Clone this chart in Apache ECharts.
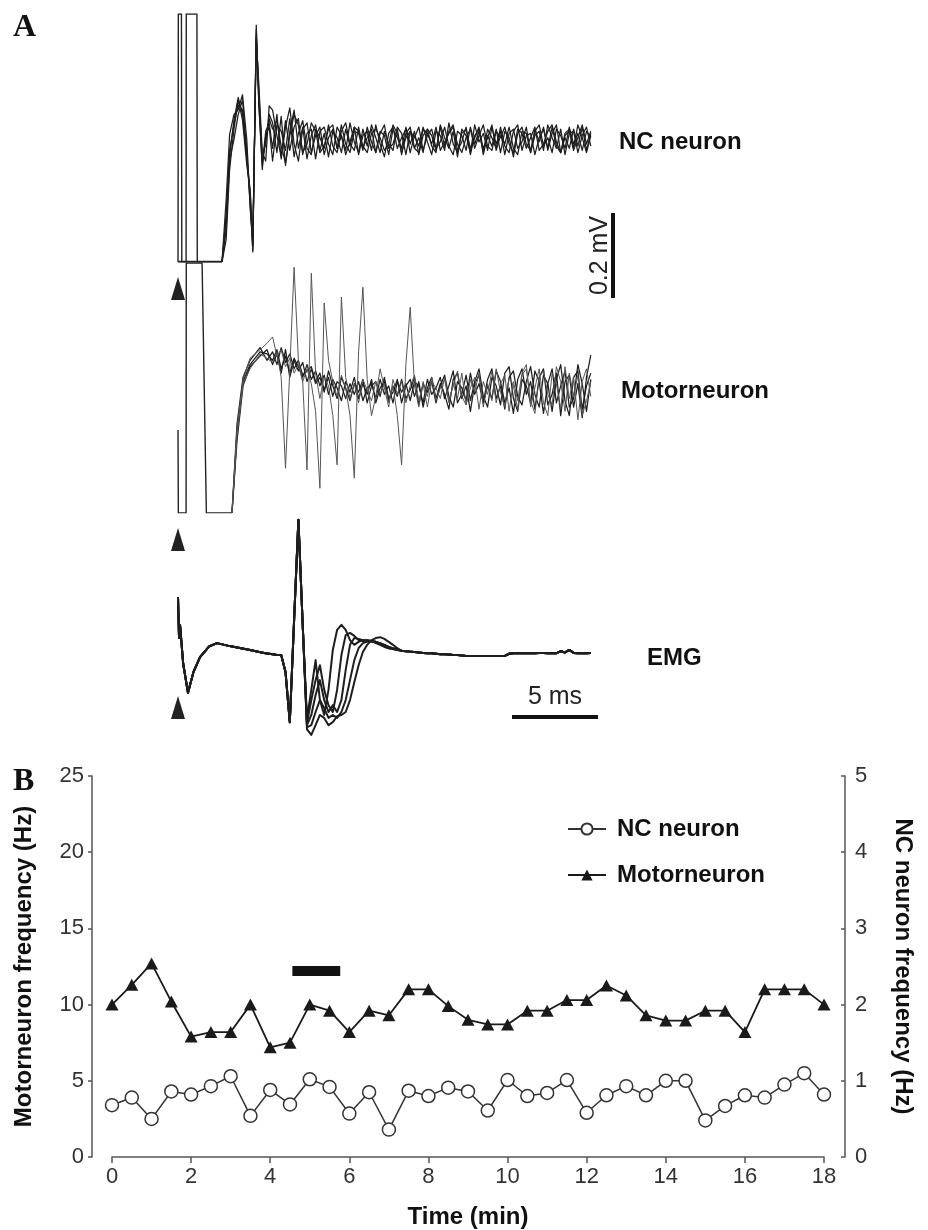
<!DOCTYPE html>
<html>
<head>
<meta charset="utf-8">
<script src="https://cdn.jsdelivr.net/npm/echarts@6/dist/echarts.min.js"></script>
<style>
html, body { margin: 0; padding: 0; background: #fff; }
#chart { width: 928px; height: 1230px; }
</style>
</head>
<body>
<div id="chart"></div>
<script>
// ---------- panel B: firing frequency over time ----------
var minutes = [0, 0.5, 1, 1.5, 2, 2.5, 3, 3.5, 4, 4.5, 5, 5.5, 6, 6.5, 7, 7.5, 8, 8.5, 9, 9.5,
  10, 10.5, 11, 11.5, 12, 12.5, 13, 13.5, 14, 14.5, 15, 15.5, 16, 16.5, 17, 17.5, 18];
var motorFreq = [10.0, 11.3, 12.7, 10.2, 7.9, 8.2, 8.2, 10.0, 7.2, 7.5, 10.0, 9.6, 8.2, 9.6, 9.3, 11.0, 11.0, 9.9, 9.0, 8.7,
  8.7, 9.6, 9.6, 10.3, 10.3, 11.25, 10.6, 9.3, 8.95, 8.95, 9.6, 9.6, 8.2, 11.0, 11.0, 11.0, 10.0];
var ncFreq = [0.68, 0.78, 0.5, 0.86, 0.82, 0.93, 1.06, 0.54, 0.88, 0.69, 1.02, 0.92, 0.57, 0.85, 0.36, 0.87, 0.80, 0.91, 0.86, 0.61,
  1.01, 0.80, 0.84, 1.01, 0.58, 0.81, 0.93, 0.81, 1.0, 1.0, 0.48, 0.67, 0.81, 0.78, 0.95, 1.1, 0.82];
var stimBarMinutes = [4.56, 5.77];
var stimBarLevel = 12.2;

// ---------- panel A: sweeps (time in ms, amplitude in uV) ----------
var sweepTimes = [5.5, 5.75, 6, 6.25, 6.5, 6.75, 7, 7.25, 7.5, 7.75, 8, 8.25, 8.5, 8.75, 9, 9.25, 9.5, 9.75, 10, 10.25,
  10.5, 10.75, 11, 11.25, 11.5, 11.75, 12, 12.25, 12.5, 12.75, 13, 13.25, 13.5, 13.75, 14, 14.25, 14.5, 14.75, 15, 15.25,
  15.5, 15.75, 16, 16.25, 16.5, 16.75, 17, 17.25, 17.5, 17.75, 18, 18.25, 18.5, 18.75, 19, 19.25, 19.5, 19.75, 20, 20.25,
  20.5, 20.75, 21, 21.25, 21.5, 21.75, 22, 22.25, 22.5, 22.75, 23, 23.25, 23.5, 23.75, 24];

// NC neuron
var ncArtifact = [[0, -287], [0.02, 296], [0.2, 296], [0.22, -287], [0.47, -287], [0.48, 296], [1.1, 296], [1.12, -287], [2.56, -287]];
var ncBaseline = [[0, -287], [2.56, -287]];
var ncEarlyTimes = [2.56, 2.8, 3.0, 3.25, 3.5, 3.75, 4.0, 4.2, 4.35, 4.55, 4.7, 4.9, 5.1, 5.3];
var ncEarly = [
  [-287, -176, -24, 35, 82, 71, -24, -141, -264, 259, 100, -40, -10, 60],
  [-287, -235, -71, 24, 94, 47, -59, -118, -247, 247, 80, -60, 20, 40],
  [-287, -141, 12, 59, 71, 106, 0, -165, -235, 235, 130, -30, -50, 80],
  [-287, -212, -47, 0, 59, 94, -35, -153, -259, 270, 90, -70, 10, 30],
  [-287, -190, -40, 45, 100, 60, -45, -130, -250, 240, 110, -50, 0, 50]
];
var ncSweep = [
  [40, -30, 55, -60, 20, 70, -20, 30, -45, 10, 35, -25, 15, -40, 20, 5, -30, 25, -15, 30,
   -35, 10, 20, -25, 35, -10, -40, 15, 30, -20, 5, 25, -30, 10, -15, 30, -5, -35, 20, 10,
   -25, 40, -10, -30, 15, 25, -20, 5, 30, -35, 10, -15, 25, -30, 20, 5, -40, 15, 30, -10,
   -25, 20, 35, -15, 5, -30, 25, 10, -20, 30, -10, 15, -25, 20, 5],
  [-20, 60, -45, 30, 75, -10, -50, 25, 40, -30, 10, 30, -35, 5, 25, -20, 35, -10, -30, 20,
   15, -25, 30, -5, -30, 20, 10, -35, 25, 5, -20, 30, -10, 20, -35, 10, 25, -15, -30, 35,
   5, -20, 20, -40, 25, 10, -30, 35, -5, 15, -25, 30, -10, 20, -35, 15, 25, -20, -5, 30,
   -30, 10, 20, -25, 35, 5, -20, 25, -35, 15, 20, -30, 10, 30, -15],
  [70, 10, -40, 45, -25, 30, 50, -35, 15, 25, -45, 20, 30, -10, -35, 30, 10, -25, 40, -5,
   -30, 25, -15, 35, 5, -30, 20, -10, -25, 30, 15, -35, 20, 5, 30, -25, 10, 25, -20, -5,
   30, -15, -35, 20, 10, -25, 30, -10, 20, -30, 25, 5, -20, 30, -15, -30, 20, 35, -25, 10,
   15, -35, 5, 25, -20, 30, -15, -30, 15, 25, -20, 35, 5, -30, 10],
  [-50, 35, 20, -25, 50, -40, 15, 45, -20, -35, 25, 5, -20, 35, -15, -30, 20, 40, -10, -25,
   30, -20, 5, 25, -30, 15, 35, -20, -10, 25, -35, 15, 30, -20, 5, -30, 25, 10, -25, 30,
   -15, 20, 35, -25, -5, 30, -35, 10, 25, -20, 5, 35, -25, 10, -10, 30, -20, -35, 20, 15,
   -30, 25, -5, 30, -25, 15, 35, -30, 5, -20, 25, -15, 30, -25, 15],
  [25, 45, -15, -55, 10, 60, 35, -30, -10, 40, 20, -30, -15, 25, 35, -20, 10, -35, -5, 30,
   20, -15, -30, 15, 25, 5, -25, -10, 35, 15, -30, 5, 20, -20, -30, 25, 15, -10, 30, -25,
   -5, 15, 30, -10, -30, 5, 25, -20, 10, 35, -15, -25, 20, 5, 30, -10, -30, 25, 15, -20,
   5, 30, -25, -10, 20, 35, -5, -30, 10, 20, -25, 5, 35, -10, 20]
];

// Motorneuron
var motorArtifact = [[0, -94], [0.02, -289], [0.47, -289], [0.48, 299], [1.4, 299], [1.65, -289], [3.14, -289]];
var motorEarlyTimes = [3.14, 3.43, 3.78, 4.19, 4.77, 5.17];
var motorEarly = [
  [-289, -100, 20, 60, 90, 85],
  [-289, -80, 30, 70, 100, 70],
  [-289, -120, 10, 55, 80, 95],
  [-289, -90, 25, 75, 95, 110],
  [-289, -110, 15, 50, 85, 75]
];
var motorSweep = [
  [70, 95, 50, 80, 40, 75, 55, 30, 60, 25, 45, 10, 35, -10, 25, 5, -25, 20, -5, 30,
   -20, 15, -10, 25, -30, 5, 20, -25, 10, -15, 25, -20, 0, 30, -35, 15, -5, 20, -30, 10,
   35, -15, -40, 20, 5, -25, 40, -10, 15, -30, 25, 50, -20, 10, -45, 30, 45, -15, -35, 20,
   55, -10, -40, 35, 15, -50, 25, 60, -25, -60, 30, 45, -45, 10, 40],
  [90, 60, 100, 65, 85, 50, 70, 35, 45, 55, 20, 40, 0, 30, -15, 20, 10, -20, 15, -10,
   20, -25, 5, 15, -20, 25, -10, 10, -30, 20, -5, 15, -25, 20, 10, -30, 25, -10, 5, 30,
   -20, 10, 45, -30, -10, 35, -25, 20, 50, -15, -40, 30, 10, -35, 40, 55, -20, -50, 25, 10,
   -30, 45, 20, -55, 15, 50, -30, 10, 45, -40, -20, 60, 15, -50, 25],
  [60, 85, 40, 95, 30, 70, 45, 65, 20, 50, 15, 30, -5, 45, 10, -20, 30, 5, -25, 15,
   -5, 25, -30, 10, 20, -15, 30, -20, -5, 25, -30, 10, 25, -15, 20, -40, 5, 30, -20, 15,
   -10, -45, 25, 40, -20, 10, -50, 15, 35, -30, 10, -20, 45, 20, -30, 5, -55, 25, 50, -10,
   20, -45, 30, 50, -35, -10, 40, -60, 20, 35, -40, 15, -65, 30, 82],
  [125, 80, 95, 55, 75, 40, 60, 20, -188, 275, 40, -20, 30, 10, -60, -176, 219, 30, -20, 15,
   -30, 25, 0, -25, 20, -10, 15, -30, 10, -60, -176, 60, 195, 10, -40, 20, -15, 30, -25, 5,
   25, -30, 15, -20, 40, -35, 5, 30, -45, 20, -10, 45, -30, 15, 35, -50, 20, -25, 40, 60,
   -40, 5, 50, -30, -60, 40, 15, -45, 55, -20, 30, -70, 20, 50, -15],
  [65, 90, 30, -184, 50, 289, 70, 20, 50, 15, -50, -231, 205, 70, 20, -15, 35, 5, -60, -207,
   90, 242, 25, -60, -15, 50, 5, -40, 25, -10, 20, -30, 10, 35, -25, 15, -40, 20, 5, -20,
   30, -25, 10, 45, -15, -35, 25, -5, 40, -40, 15, -25, 50, -5, -40, 30, 10, -45, 35, 50,
   -25, -55, 30, 45, -10, -35, 55, 20, -50, 40, -15, 35, -60, -25, 20]
];

// EMG
var emgEarlyTimes = [0, 0.06, 0.12, 0.3, 0.58, 0.9, 1.28, 1.8, 2.27, 3.0, 4.19, 5.0];
var emgEarly = [136, 40, 70, -20, -89, -40, -5, 20, 28, 21, 12, 5];
var emgPrefix = [2, 0, 0, -40, -158, 82, 318, 71];           // 5.5 .. 7.25 ms
var emgMid = [                                                // 7.5 .. 12.75 ms
  [-150, -82, -12, -106, -141, -82, 12, 59, 71, 59, 35, 24, 31, 35, 35, 33, 28, 24, 19, 16, 14, 12],
  [-160, -106, -59, -24, -82, -118, -134, -82, 0, 47, 52, 45, 35, 33, 35, 33, 31, 26, 21, 16, 14, 12],
  [-165, -141, -94, -59, -106, -134, -118, -134, -106, -35, 24, 40, 38, 35, 33, 33, 31, 28, 24, 19, 16, 14],
  [-170, -165, -134, -106, -125, -148, -141, -148, -134, -106, -59, -12, 16, 28, 31, 31, 31, 28, 24, 19, 16, 14],
  [-175, -188, -165, -141, -148, -165, -158, -144, -141, -134, -106, -64, -24, 7, 24, 35, 40, 42, 38, 31, 24, 16]
];
var emgTail = [10, 9, 8, 7, 6, 5, 4, 4, 3, 2, 2, 1, 0, 0, -1, -2, -2, -2, -2, -2,   // 13 .. 24 ms
  -2, -2, -2, -2, -2, 3, 4, 4, 5, 4, 5, 4, 5, 5, 4, 5, 4, 9, 6, 12, 5, 4, 5, 4, 5];

// scale bars
var scaleBarMs = 5;
var scaleBarUV = 200;

// ---------- layout ----------
var pxPerMs = 17.2;
var pxPerUV = 0.425;
var traceLeft = 178;
var traceMaxMs = 24.25;
var traceRows = [
  { top: 14, min: -287, max: 296 },
  { top: 263, min: -289, max: 299 },
  { top: 505, min: -190, max: 353 }
];
var FONT = 'Liberation Sans, Arial, Helvetica, sans-serif';

function pairs(times, vals) {
  return times.map(function (t, i) { return [t, vals[i]]; });
}

var grids = [], xAxes = [], yAxes = [], series = [];
traceRows.forEach(function (r, i) {
  grids.push({ left: traceLeft, top: r.top, width: traceMaxMs * pxPerMs, height: (r.max - r.min) * pxPerUV });
  xAxes.push({ type: 'value', gridIndex: i, min: 0, max: traceMaxMs, show: false });
  yAxes.push({ type: 'value', gridIndex: i, min: r.min, max: r.max, show: false });
});

function trace(data, row, color, width) {
  series.push({
    type: 'line', xAxisIndex: row, yAxisIndex: row, data: data,
    symbol: 'none', silent: true, animation: false,
    lineStyle: { color: color, width: width, join: 'round' }
  });
}

// NC neuron traces
trace(ncArtifact, 0, '#222', 1.4);
trace(ncBaseline, 0, '#222', 2);
ncEarly.forEach(function (e, k) {
  trace(pairs(ncEarlyTimes.concat(sweepTimes), e.concat(ncSweep[k])), 0, '#1e1e1e', 1.25);
});
// Motorneuron traces
trace(motorArtifact, 1, '#222', 1.4);
motorEarly.forEach(function (e, k) {
  var spiky = k >= 3;
  trace(pairs(motorEarlyTimes.concat(sweepTimes), e.concat(motorSweep[k])), 1, spiky ? '#555' : '#1e1e1e', spiky ? 1 : 1.25);
});
// EMG traces
emgMid.forEach(function (m) {
  trace(pairs(emgEarlyTimes.concat(sweepTimes), emgEarly.concat(emgPrefix, m, emgTail)), 2, '#1e1e1e', 2);
});

// ---------- panel B ----------
grids.push({ left: 112, right: 104, top: 776, bottom: 73 });
xAxes.push({
  type: 'value', gridIndex: 3, min: 0, max: 18, interval: 2,
  name: 'Time (min)', nameLocation: 'middle', nameGap: 48,
  nameTextStyle: { fontFamily: FONT, fontSize: 24, fontWeight: 'bold', color: '#111' },
  axisLine: { onZero: false, lineStyle: { color: '#555', width: 1.5 } },
  axisTick: { length: 6, lineStyle: { color: '#555', width: 1.5 } },
  axisLabel: { fontFamily: FONT, fontSize: 22, color: '#333', margin: 9 },
  splitLine: { show: false }
});
yAxes.push({
  type: 'value', gridIndex: 3, position: 'left', offset: 20, min: 0, max: 25, interval: 5,
  name: 'Motorneuron frequency (Hz)', nameLocation: 'middle', nameGap: 56, nameRotate: 90,
  nameTextStyle: { fontFamily: FONT, fontSize: 24, fontWeight: 'bold', color: '#111' },
  axisLine: { show: true, onZero: false, lineStyle: { color: '#555', width: 1.5 } },
  axisTick: { show: true, length: 4, lineStyle: { color: '#555', width: 1.5 } },
  axisLabel: { fontFamily: FONT, fontSize: 22, color: '#333', margin: 8 },
  splitLine: { show: false }
});
yAxes.push({
  type: 'value', gridIndex: 3, position: 'right', offset: 21, min: 0, max: 5, interval: 1,
  name: 'NC neuron frequency (Hz)', nameLocation: 'middle', nameGap: 46, nameRotate: -90,
  nameTextStyle: { fontFamily: FONT, fontSize: 24, fontWeight: 'bold', color: '#111' },
  axisLine: { show: true, onZero: false, lineStyle: { color: '#555', width: 1.5 } },
  axisTick: { show: true, inside: true, length: 4, lineStyle: { color: '#555', width: 1.5 } },
  axisLabel: { fontFamily: FONT, fontSize: 22, color: '#333', margin: 10 },
  splitLine: { show: false }
});

series.push({
  name: 'Motorneuron', type: 'line', xAxisIndex: 3, yAxisIndex: 3,
  data: pairs(minutes, motorFreq),
  symbol: 'triangle', symbolSize: [13, 12], animation: false,
  lineStyle: { color: '#1a1a1a', width: 1.8 },
  itemStyle: { color: '#1a1a1a' }
});
series.push({
  name: 'NC neuron', type: 'line', xAxisIndex: 3, yAxisIndex: 4,
  data: pairs(minutes, ncFreq),
  symbol: 'circle', symbolSize: 13, showAllSymbol: true, animation: false,
  lineStyle: { color: '#333', width: 1.5 },
  itemStyle: { color: '#fff', borderColor: '#333', borderWidth: 1.5 }
});
series.push({
  name: 'stim', type: 'line', xAxisIndex: 3, yAxisIndex: 3,
  data: [[stimBarMinutes[0], stimBarLevel], [stimBarMinutes[1], stimBarLevel]],
  symbol: 'none', animation: false, silent: true,
  lineStyle: { color: '#111', width: 10, cap: 'butt' }
});

// ---------- annotations ----------
function label(x, y, text, size, weight) {
  return {
    type: 'text', x: x, y: y, silent: true,
    style: { text: text, fill: '#111', font: (weight || 'normal') + ' ' + size + 'px ' + FONT, align: 'left', verticalAlign: 'middle' }
  };
}
function stimArrow(y) {
  return { type: 'polygon', x: traceLeft, y: y, silent: true,
    shape: { points: [[0, -12], [7, 11], [-7, 11]] }, style: { fill: '#222' } };
}

var barX = 598, barY = 717;
var vBarX = 613, vBarBottom = 298;

var graphics = [
  { type: 'text', x: 13, y: 12, style: { text: 'A', fill: '#111', font: 'bold 32px Liberation Serif, Times New Roman, serif' } },
  { type: 'text', x: 13, y: 766, style: { text: 'B', fill: '#111', font: 'bold 32px Liberation Serif, Times New Roman, serif' } },
  label(619, 142, 'NC neuron', 24, 'bold'),
  label(621, 391, 'Motorneuron', 24, 'bold'),
  label(647, 658, 'EMG', 24, 'bold'),
  stimArrow(289), stimArrow(540), stimArrow(708),
  { type: 'line', silent: true, shape: { x1: barX - scaleBarMs * pxPerMs, y1: barY, x2: barX, y2: barY }, style: { stroke: '#111', lineWidth: 4 } },
  { type: 'line', silent: true, shape: { x1: vBarX, y1: vBarBottom - scaleBarUV * pxPerUV, x2: vBarX, y2: vBarBottom }, style: { stroke: '#111', lineWidth: 4 } },
  { type: 'text', x: barX - scaleBarMs * pxPerMs / 2, y: 697, silent: true,
    style: { text: scaleBarMs + ' ms', fill: '#222', font: '25px ' + FONT, align: 'center', verticalAlign: 'middle' } },
  { type: 'text', x: 600, y: vBarBottom - scaleBarUV * pxPerUV / 2, rotation: Math.PI / 2, silent: true,
    style: { text: (scaleBarUV / 1000) + ' mV', fill: '#222', font: '25px ' + FONT, align: 'center', verticalAlign: 'middle' } }
];

var myChart = echarts.init(document.getElementById('chart'), null, { renderer: 'canvas' });
myChart.setOption({
  backgroundColor: '#fff',
  animation: false,
  grid: grids,
  xAxis: xAxes,
  yAxis: yAxes,
  legend: {
    data: ['NC neuron', 'Motorneuron'],
    orient: 'vertical', left: 567, top: 817, padding: 0,
    itemWidth: 38, itemHeight: 14, itemGap: 22,
    textStyle: { fontFamily: FONT, fontSize: 24, fontWeight: 'bold', color: '#111', padding: [0, 0, 0, 6] }
  },
  series: series,
  graphic: graphics
});
</script>
</body>
</html>
